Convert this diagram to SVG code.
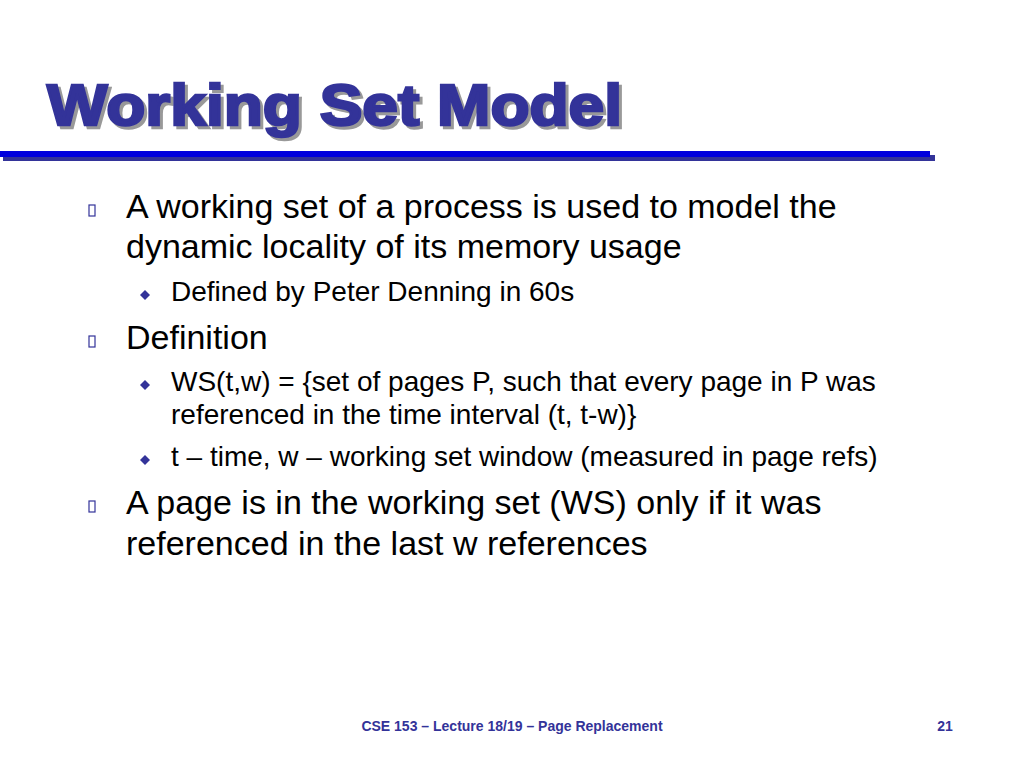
<svg xmlns="http://www.w3.org/2000/svg" width="1024" height="768" viewBox="0 0 1024 768">
<style>
.t{font-family:"Liberation Sans",Arial,sans-serif;fill:#000}
.b1{font-size:34px}
.b2{font-size:28px}
.box{fill:none;stroke:#333399;stroke-width:1.2}
.dia{fill:#333399}
</style>
<rect width="1024" height="768" fill="#fff"/>
<g id="title">
<text x="50" y="128" font-family="'Liberation Sans',Arial,sans-serif" font-weight="bold" font-size="58" fill="#999" stroke="#999" stroke-width="2.5" textLength="575" lengthAdjust="spacingAndGlyphs">Working Set Model</text>
<text x="47" y="125" font-family="'Liberation Sans',Arial,sans-serif" font-weight="bold" font-size="58" fill="#333399" stroke="#333399" stroke-width="2.5" textLength="575" lengthAdjust="spacingAndGlyphs">Working Set Model</text>
</g>
<rect x="3" y="155" width="932" height="6" fill="#333399"/>
<rect x="0" y="151" width="930" height="6" fill="#0000dd"/>
<g id="body">
<rect class="box" x="89" y="205" width="6" height="11"/>
<text class="t b1" x="126" y="218">A working set of a process is used to model the</text>
<text class="t b1" x="126" y="258">dynamic locality of its memory usage</text>
<path class="dia" d="M145 290l5 5-5 5-5-5z"/>
<text class="t b2" x="171" y="301">Defined by Peter Denning in 60s</text>
<rect class="box" x="89" y="336" width="6" height="11"/>
<text class="t b1" x="126" y="349">Definition</text>
<path class="dia" d="M145 380l5 5-5 5-5-5z"/>
<text class="t b2" x="171" y="391">WS(t,w) = {set of pages P, such that every page in P was</text>
<text class="t b2" x="171" y="424">referenced in the time interval (t, t-w)}</text>
<path class="dia" d="M145 455l5 5-5 5-5-5z"/>
<text class="t b2" x="171" y="466">t – time, w – working set window (measured in page refs)</text>
<rect class="box" x="89" y="501" width="6" height="11"/>
<text class="t b1" x="126" y="514">A page is in the working set (WS) only if it was</text>
<text class="t b1" x="126" y="555">referenced in the last w references</text>
</g>
<g id="footer" font-family="'Liberation Sans',Arial,sans-serif" font-weight="bold" font-size="14" fill="#333399">
<text x="512" y="731" text-anchor="middle">CSE 153 – Lecture 18/19 – Page Replacement</text>
<text x="945" y="731" text-anchor="middle">21</text>
</g>
</svg>
